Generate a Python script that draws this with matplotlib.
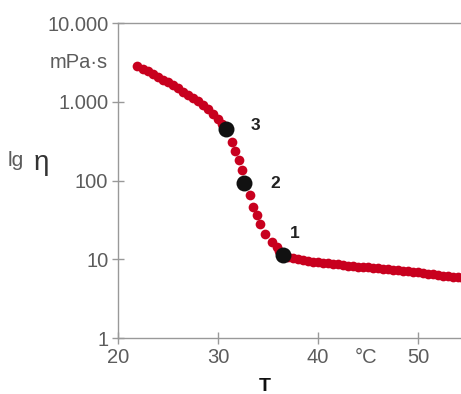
import numpy as np
import matplotlib
matplotlib.use('Agg')
from matplotlib import pyplot as plt

plt.rcParams['font.family'] = ['Liberation Sans', 'DejaVu Sans']

# measured curve: temperature (deg C) and viscosity (mPa*s)
temp = [21.9, 22.5, 23.0, 23.5, 24.0, 24.5, 25.0, 25.5, 26.0, 26.5, 27.0,
        27.5, 28.0, 28.5, 29.0, 29.5, 30.0, 30.4, 30.8,
        31.37, 31.7, 32.13, 32.37, 32.63, 33.2, 33.47, 33.87, 34.2, 34.7,
        35.37, 35.87, 36.1, 36.47,
        37.0, 37.5, 38.0, 38.5, 39.0, 39.5, 40.0, 40.5, 41.0, 41.5, 42.0,
        42.5, 43.0, 43.5, 44.0, 44.5, 45.0, 45.5, 46.0, 46.5, 47.0, 47.5,
        48.0, 48.5, 49.0, 49.5, 50.0, 50.5, 51.0, 51.5, 52.0, 52.5, 53.0,
        53.5, 54.0, 54.5]
visc = [2860, 2630, 2430, 2240, 2065, 1905, 1760, 1620, 1480, 1350, 1230,
        1120, 1010, 912, 813, 708, 603, 525, 447,
        305, 240, 182, 135, 92.5, 64.6, 46.8, 36.3, 28.2, 21.1,
        16.6, 14.3, 12.6, 11.2,
        10.8, 10.5, 10.1, 9.77, 9.55, 9.33, 9.18, 9.04, 8.89, 8.75, 8.61,
        8.47, 8.34, 8.20, 8.09, 7.98, 7.89, 7.78, 7.67, 7.57, 7.46, 7.36,
        7.26, 7.16, 7.06, 6.97, 6.86, 6.70, 6.58, 6.46, 6.34, 6.22, 6.11,
        6.00, 5.89, 5.78]

# marked points 1..3
mark_labels = ['1', '2', '3']
mark_temp = [36.47, 32.63, 30.8]
mark_visc = [11.2, 92.5, 447]
mark_offsets = [(5, 16), (19, 0), (18, 3)]

yticks = [1, 10, 100, 1000, 10000]
ytick_labels = ['1', '10', '100', '1.000', '10.000']
xticks = [20, 30, 40, 50]

grey = '#999999'
text_grey = '#5c5c5c'
red = '#c8001e'

fig = plt.figure(figsize=(4.61, 3.94), dpi=100)
ax = fig.add_axes([0.256, 0.142, 0.744, 0.7995])

ax.plot(temp, visc, 'o', color=red, markersize=7, markeredgewidth=0, zorder=2)
ax.plot(mark_temp, mark_visc, 'o', color='#111111', markersize=11.5,
        markeredgewidth=0, zorder=3)
for lab, t, v, off in zip(mark_labels, mark_temp, mark_visc, mark_offsets):
    ax.annotate(lab, (t, v), xytext=off, textcoords='offset points',
                fontsize=12.5, fontweight='bold', color='#222222',
                ha='left', va='center')

ax.set_yscale('log')
ax.set_xlim(20, 54.3)
ax.set_ylim(1, 10000)
ax.set_yticks(yticks)
ax.set_yticklabels(ytick_labels)
ax.minorticks_off()
ax.set_xticks(xticks)

for s in ['left', 'bottom', 'top']:
    ax.spines[s].set_color(grey)
    ax.spines[s].set_linewidth(1)
ax.spines['right'].set_visible(False)
ax.tick_params(direction='inout', length=9, width=1, color=grey,
               labelcolor=text_grey, labelsize=14.5, pad=2.5)

ax.annotate('°C', (44.8, 0), xycoords=('data', 'axes fraction'),
            xytext=(0, -7), textcoords='offset points',
            ha='center', va='top', fontsize=14.5, color=text_grey)
ax.text(34.7, -0.168, 'T', transform=ax.get_xaxis_transform(),
        ha='center', va='baseline', fontsize=14, fontweight='bold',
        color='#111111')

fig.text(108 / 461, 1 - 63 / 394, 'mPa·s', ha='right', va='center',
         fontsize=14.5, color=text_grey)
fig.text(8 / 461, 1 - 160 / 394, 'lg', ha='left', va='center',
         fontsize=15, color=text_grey)
fig.text(34 / 461, 1 - 163 / 394, 'η', ha='left', va='center',
         fontsize=20, color='#333333')

plt.savefig('out.png', dpi=100)
